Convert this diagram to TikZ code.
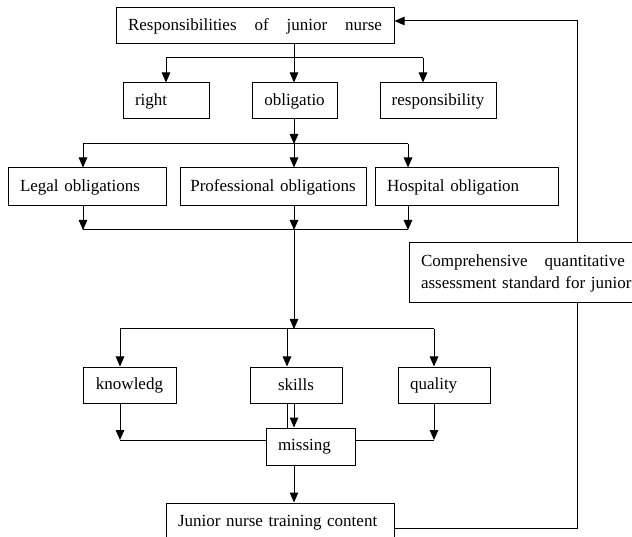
\documentclass[tikz,border=0pt]{standalone}
\usepackage{fontspec}
\setmainfont{Liberation Serif}
\usetikzlibrary{arrows.meta}
\begin{document}
\begin{tikzpicture}[x=1pt,y=-1pt,
  bx/.style={draw, line width=1pt, inner ysep=0pt, inner xsep=12pt, align=left,
             font=\fontsize{17}{22}\selectfont},
  arr/.style={-{Triangle[length=10pt,width=8.5pt]}},
  ln/.style={line width=1pt}]
\clip (0,0) rectangle (632,537);
% nodes
\node[bx, text width=254pt, minimum height=36pt] (top) at (255,26)
  {\makebox[254pt][s]{Responsibilities\hfill of\hfill junior\hfill nurse}};
\node[bx, text width=62pt, minimum height=36pt] (right) at (166,101) {right};
\node[bx, text width=61pt, minimum height=36pt, align=center] (ob) at (294.5,101) {obligatio};
\node[bx, text width=106pt, minimum height=36pt, inner xsep=5pt, align=center] (resp) at (438,101) {responsibility};
\node[bx, text width=134pt, minimum height=38pt] (legal) at (87,187) {Legal obligations};
\node[bx, text width=176pt, minimum height=38pt, inner xsep=5pt, align=center] (prof) at (273,187) {Professional obligations};
\node[bx, text width=159pt, minimum height=38pt] (hosp) at (466.5,187) {Hospital obligation};
\node[bx, text width=227pt, minimum height=60pt] (comp) at (534.5,273)
  {\makebox[204pt][s]{Comprehensive\hfill quantitative}\\assessment standard for junior};
\node[bx, text width=69pt, minimum height=36pt, align=center] (know) at (129.5,385) {knowledg};
\node[bx, text width=68pt, minimum height=36pt, align=center] (skills) at (296,385) {skills};
\node[bx, text width=68pt, minimum height=36pt] (qual) at (444,385) {quality};
\node[bx, text width=65pt, minimum height=37pt] (miss) at (310.5,446.5) {missing};
\node[bx, text width=204pt, minimum height=40pt] (jun) at (280,523) {Junior nurse training content};
% level 1
\coordinate (j1) at (294,58);
\coordinate (b1l) at (166,58);
\coordinate (b1r) at (423,58);
\draw[ln] (j1 |- top.south) -- (j1);
\draw[ln] (b1l) -- (b1r);
\draw[ln,arr] (b1l) -- (b1l |- right.north);
\draw[ln,arr] (j1) -- (j1 |- ob.north);
\draw[ln,arr] (b1r) -- (b1r |- resp.north);
% level 2
\coordinate (j2) at (294,144);
\coordinate (b2l) at (83,144);
\coordinate (b2r) at (408,144);
\draw[ln,arr] (j2 |- ob.south) -- (j2);
\draw[ln] (b2l) -- (b2r);
\draw[ln,arr] (b2l) -- (b2l |- legal.north);
\draw[ln,arr] (j2) -- (j2 |- prof.north);
\draw[ln,arr] (b2r) -- (b2r |- hosp.north);
% level 3
\coordinate (c3l) at (83,230);
\coordinate (c3m) at (294,230);
\coordinate (c3r) at (408,230);
\draw[ln,arr] (c3l |- legal.south) -- (c3l);
\draw[ln,arr] (c3m |- prof.south) -- (c3m);
\draw[ln,arr] (c3r |- hosp.south) -- (c3r);
\draw[ln] (c3l) -- (c3r);
\coordinate (j4) at (294,329);
\draw[ln,arr] (c3m) -- (j4);
% level 4
\coordinate (b4l) at (120,329);
\coordinate (b4s) at (287,329);
\coordinate (b4r) at (434,329);
\draw[ln] (b4l) -- (b4r);
\draw[ln,arr] (b4l) -- (b4l |- know.north);
\draw[ln,arr] (b4s) -- (b4s |- skills.north);
\draw[ln,arr] (b4r) -- (b4r |- qual.north);
% level 5
\coordinate (d5l) at (120,440);
\coordinate (d5r) at (434,440);
\draw[ln,arr] (d5l |- know.south) -- (d5l);
\draw[ln,arr] (d5r |- qual.south) -- (d5r);
\draw[ln] (d5l) -- (d5l -| miss.west);
\draw[ln] (d5r) -- (d5r -| miss.east);
\coordinate (s1) at (287,0);
\coordinate (s2) at (294,0);
\draw[ln] (s1 |- skills.south) -- (s1 |- miss.north);
\draw[ln,arr] (s2 |- skills.south) -- (s2 |- miss.north);
\draw[ln,arr] (s2 |- miss.south) -- (s2 |- jun.north);
% feedback
\coordinate (fb) at (577,528);
\coordinate (ft) at (577,21);
\draw[ln] (fb -| jun.east) -- (fb) -- (fb |- comp.south);
\draw[ln,arr] (ft |- comp.north) -- (ft) -- (ft -| top.east);
\end{tikzpicture}
\end{document}
